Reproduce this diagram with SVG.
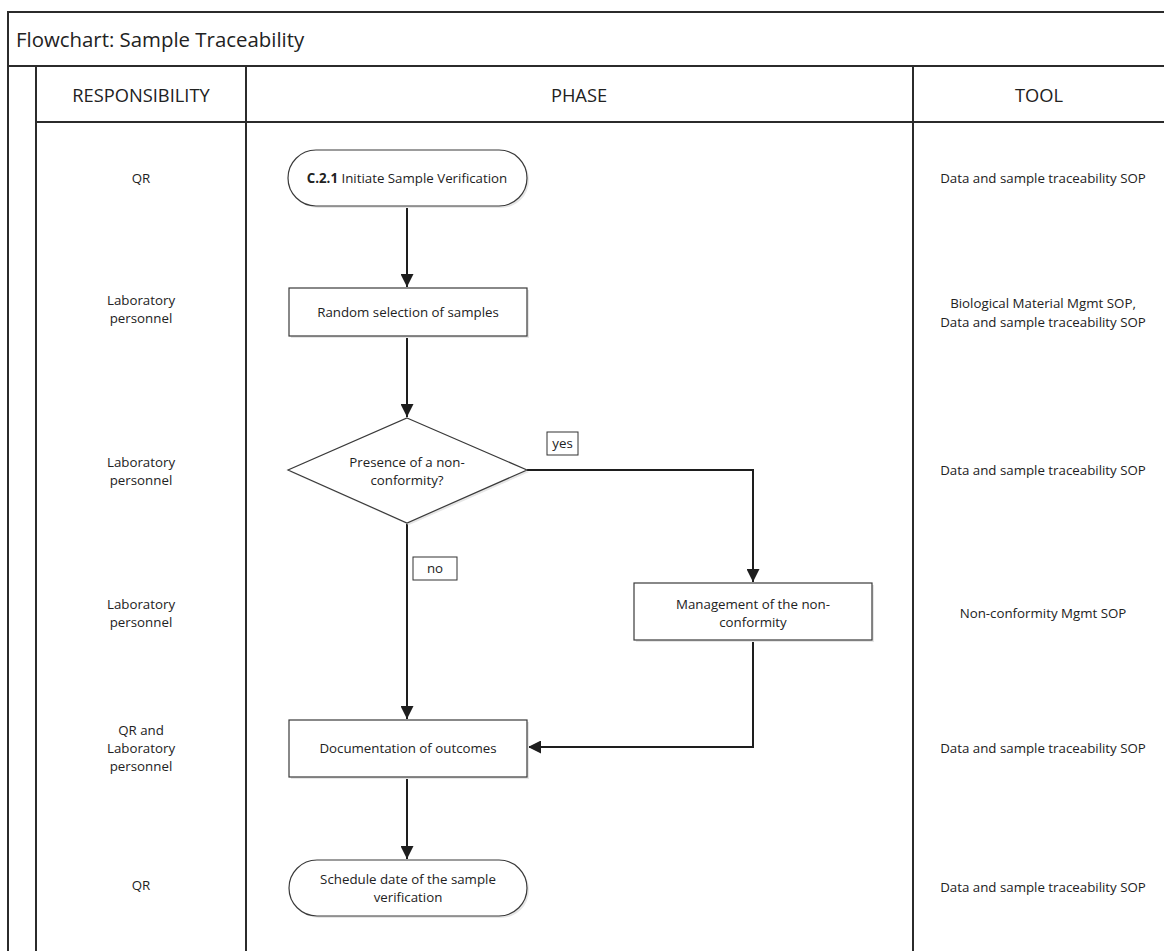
<svg xmlns="http://www.w3.org/2000/svg" width="1164" height="951" viewBox="0 0 1164 951">
<style>
.frame{stroke:#2b2b2b;stroke-width:2;fill:none}
.shape{fill:#fff;stroke:#3a3a3a;stroke-width:1.2}
.shadow{fill:#e6e6e6;stroke:none}
.conn{stroke:#1e1e1e;stroke-width:2;fill:none}
.lbl{fill:#fff;stroke:#333;stroke-width:1}
text{font-family:"Open Sans","Liberation Sans",sans-serif;fill:#222;text-anchor:middle}
.t{font-size:13.3px}
.h{font-size:18.3px}
.title{font-size:20.4px;text-anchor:start}
</style>
<defs>
<marker id="arrh" viewBox="0 0 12 12" refX="12" refY="6" markerWidth="13" markerHeight="13" markerUnits="userSpaceOnUse" orient="auto">
<path d="M0,0 L12,6 L0,12 Z" fill="#1e1e1e"/>
</marker>
</defs>
<rect width="1164" height="951" fill="#fff"/>
<g id="frame">
<path class="frame" d="M8,951 V12 H1164 M8,66 H1164 M36,66 V951 M246,66 V951 M913,66 V951 M36,122 H1164"/>
<text class="title" x="16" y="47">Flowchart: Sample Traceability</text>
<text class="h" x="141" y="102">RESPONSIBILITY</text>
<text class="h" x="579" y="102">PHASE</text>
<text class="h" x="1039" y="102">TOOL</text>
</g>
<g id="responsibility">
<text class="t" x="141" y="183">QR</text>
<text class="t" x="141" y="305">Laboratory</text>
<text class="t" x="141" y="323">personnel</text>
<text class="t" x="141" y="467">Laboratory</text>
<text class="t" x="141" y="485">personnel</text>
<text class="t" x="141" y="609">Laboratory</text>
<text class="t" x="141" y="627">personnel</text>
<text class="t" x="141" y="735">QR and</text>
<text class="t" x="141" y="753">Laboratory</text>
<text class="t" x="141" y="771">personnel</text>
<text class="t" x="141" y="890">QR</text>
</g>
<g id="tools">
<text class="t" x="1043" y="183">Data and sample traceability SOP</text>
<text class="t" x="1043" y="308">Biological Material Mgmt SOP,</text>
<text class="t" x="1043" y="327">Data and sample traceability SOP</text>
<text class="t" x="1043" y="475">Data and sample traceability SOP</text>
<text class="t" x="1043" y="618">Non-conformity Mgmt SOP</text>
<text class="t" x="1043" y="753">Data and sample traceability SOP</text>
<text class="t" x="1043" y="892">Data and sample traceability SOP</text>
</g>
<g id="connectors">
<path class="conn" d="M407,206 V287" marker-end="url(#arrh)"/>
<path class="conn" d="M407,336 V417" marker-end="url(#arrh)"/>
<path class="conn" d="M527,470 H753 V582" marker-end="url(#arrh)"/>
<path class="conn" d="M407,523 V719" marker-end="url(#arrh)"/>
<path class="conn" d="M753,640 V747 H528" marker-end="url(#arrh)"/>
<path class="conn" d="M407,777 V859" marker-end="url(#arrh)"/>
</g>
<g id="n-start">
<rect class="shadow" x="290" y="152" width="239" height="56" rx="28"/>
<rect class="shape" x="288" y="150" width="239" height="56" rx="28"/>
<text class="t" x="407" y="183"><tspan font-weight="bold">C.2.1</tspan> Initiate Sample Verification</text>
</g>
<g id="n-random">
<rect class="shadow" x="291" y="290" width="238" height="48"/>
<rect class="shape" x="289" y="288" width="238" height="48"/>
<text class="t" x="408" y="317">Random selection of samples</text>
</g>
<g id="n-decision">
<polygon class="shadow" points="409,420 529,472 409,525 290,472"/>
<polygon class="shape" points="407,418 527,470 407,523 288,470"/>
<text class="t" x="407" y="467">Presence of a non-</text>
<text class="t" x="407" y="485">conformity?</text>
</g>
<g id="lbl-yes">
<rect class="lbl" x="547" y="432" width="31" height="23"/>
<text class="t" x="562.5" y="448">yes</text>
</g>
<g id="lbl-no">
<rect class="lbl" x="413" y="557" width="44" height="23"/>
<text class="t" x="435" y="573">no</text>
</g>
<g id="n-management">
<rect class="shadow" x="636" y="585" width="238" height="57"/>
<rect class="shape" x="634" y="583" width="238" height="57"/>
<text class="t" x="753" y="609">Management of the non-</text>
<text class="t" x="753" y="627">conformity</text>
</g>
<g id="n-documentation">
<rect class="shadow" x="291" y="722" width="238" height="57"/>
<rect class="shape" x="289" y="720" width="238" height="57"/>
<text class="t" x="408" y="753">Documentation of outcomes</text>
</g>
<g id="n-end">
<rect class="shadow" x="291" y="862" width="238" height="56" rx="28"/>
<rect class="shape" x="289" y="860" width="238" height="56" rx="28"/>
<text class="t" x="408" y="884">Schedule date of the sample</text>
<text class="t" x="408" y="902">verification</text>
</g>
</svg>
